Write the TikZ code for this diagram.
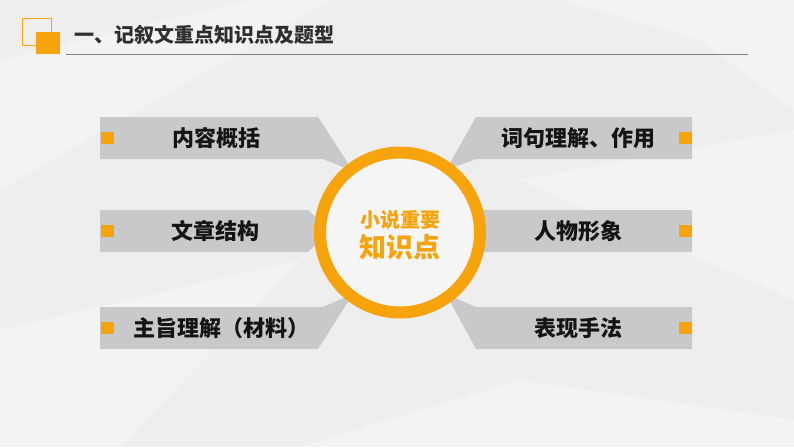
\documentclass[tikz,border=0pt]{standalone}
\usepackage{fontspec}
\newfontfamily\cjk{Noto Sans CJK SC}
\definecolor{zsorange}{HTML}{F6A30C}
\definecolor{zsgrey}{HTML}{C8C9CB}
\definecolor{zsbg}{HTML}{EEEEEE}
\definecolor{zsdark}{HTML}{2E2E2E}
\def\gpiece{\fill[zsgrey]}
\def\osq{\fill[zsorange]}
\def\facet{\fill[white,opacity=0.3]}
\tikzset{
  lbl/.style={font=\cjk\bfseries\fontsize{22}{26}\selectfont, text=black!92, inner sep=0pt},
  hubtxt/.style={font=\cjk\bfseries, text=zsorange, inner sep=0pt}
}
\begin{document}
\begin{tikzpicture}[x=1pt,y=-1pt]
\useasboundingbox (0,0) rectangle (794,447);
\fill[zsbg] (0,0) rectangle (794,447);
% background facets
\facet (560,0) -- (794,0) -- (794,110) -- (700,40) -- cycle;
\facet (0,60) -- (250,0) -- (330,0) -- (0,190) -- cycle;
\facet (0,330) -- (300,260) -- (120,447) -- (0,447) -- cycle;
\facet (300,447) -- (520,380) -- (794,420) -- (794,447) -- cycle;
\facet (520,180) -- (794,130) -- (794,300) -- cycle;
% header
\draw[zsorange, line width=1] (22,18) rectangle (51,45);
\osq (36,32) rectangle (60,54);
\draw[gray, line width=1] (66,54) -- (748,54);
\node[anchor=west, font=\cjk\bfseries\fontsize{20}{24}\selectfont, text=zsdark, inner sep=0pt]
  (title) at (74,35) {一、记叙文重点知识点及题型};
% left pieces
\gpiece (100,117) -- (318,117) -- (353,171) -- (323,159) -- (100,159) -- cycle;
\gpiece (100,210) -- (308,210) -- (330,231) -- (308,252) -- (100,252) -- cycle;
\gpiece (100,349) -- (318,349) -- (353,294) -- (323,307) -- (100,307) -- cycle;
% right pieces
\gpiece (692,117) -- (476,117) -- (446,170) -- (476,159) -- (692,159) -- cycle;
\gpiece (692,210) -- (483,210) -- (470,231) -- (483,252) -- (692,252) -- cycle;
\gpiece (692,349) -- (476,349) -- (446,294) -- (476,307) -- (692,307) -- cycle;
% markers
\osq (101,132) rectangle (114,144);
\osq (101,225) rectangle (114,237);
\osq (101,322) rectangle (114,334);
\osq (679,132) rectangle (692,144);
\osq (679,225) rectangle (692,237);
\osq (679,322) rectangle (692,334);
% hub
\node[circle, minimum size=160, inner sep=0pt, draw=zsorange, line width=12, fill=zsbg!60!white]
  (hub) at (400,232.5) {};
\node[hubtxt, font=\cjk\bfseries\fontsize{20}{24}\selectfont] (hubtop) at (400,220) {小说重要};
\node[hubtxt, font=\cjk\bfseries\fontsize{27}{30}\selectfont] (hubbot) at (400,247) {知识点};
% labels
\node[lbl] (content) at (216,138) {内容概括};
\node[lbl] (struct)  at (215,231) {文章结构};
\node[lbl] (theme)   at (221,328) {主旨理解（材料）};
\node[lbl] (words)   at (578,138) {词句理解、作用};
\node[lbl] (figure)  at (578,231) {人物形象};
\node[lbl] (method)  at (578,328) {表现手法};
\end{tikzpicture}
\end{document}
